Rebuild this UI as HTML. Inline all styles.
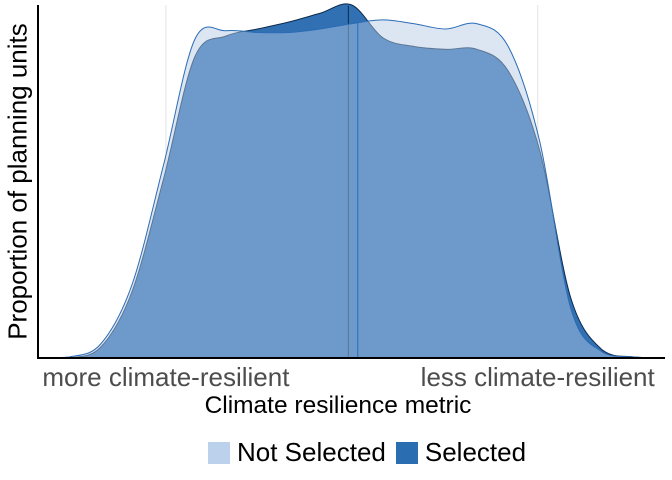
<!DOCTYPE html>
<html><head><meta charset="utf-8">
<style>
body{margin:0;background:#fff;}
svg{display:block;font-family:"Liberation Sans",sans-serif;}
</style></head>
<body>
<svg id="chart" width="672" height="480"></svg>
<script>
const xGrid = [0,5,10,15,20,25,30,35,40,45,50,55,60,65,70,75,80,85,90,95,100];
const notSelected = [0,0.003,0.04,0.21,0.55,0.91,0.935,0.93,0.93,0.94,0.955,0.966,0.955,0.94,0.955,0.89,0.62,0.14,0.017,0.003,0];
const selected = [0,0,0.031,0.19,0.51,0.86,0.92,0.94,0.96,0.985,1.009,0.915,0.89,0.882,0.882,0.82,0.594,0.17,0.023,0.003,0];
const meanSelected = 49.5;
const meanNotSelected = 51.0;
const tickValues = [20.4, 79.7];
const tickLabels = ["more climate-resilient","less climate-resilient"];

const NS="http://www.w3.org/2000/svg";
const svg=document.getElementById('chart');
const x0=38,x1=665,yb=358;
const sx=v=>x0+v/100*(x1-x0);
const sy=v=>yb-v*350;
function el(t,a){const e=document.createElementNS(NS,t);for(const k in a)e.setAttribute(k,a[k]);svg.appendChild(e);return e;}
function curvePath(ys){
  const p=xGrid.map((x,i)=>[sx(x),sy(ys[i])]);
  let d=`M${p[0][0]},${p[0][1]}`;
  for(let i=0;i<p.length-1;i++){
    const a=p[Math.max(0,i-1)],b=p[i],c=p[i+1],e=p[Math.min(p.length-1,i+2)];
    const c1=[b[0]+(c[0]-a[0])/6,b[1]+(c[1]-a[1])/6],c2=[c[0]-(e[0]-b[0])/6,c[1]-(e[1]-b[1])/6];
    d+=` C${c1[0]},${Math.min(yb,c1[1])} ${c2[0]},${Math.min(yb,c2[1])} ${c[0]},${c[1]}`;
  }
  return d;
}
function interp(ys,x){
  for(let i=0;i<xGrid.length-1;i++){if(x>=xGrid[i]&&x<=xGrid[i+1]){const t=(x-xGrid[i])/(xGrid[i+1]-xGrid[i]);return ys[i]+t*(ys[i+1]-ys[i]);}}
  return 0;
}
tickValues.forEach(v=>{
  const g=el('line',{x1:sx(v),x2:sx(v),y1:5,y2:yb,stroke:'#e3e3e3','stroke-width':1});
  
  
});
const ps=curvePath(selected);
const s=el('path',{d:ps+` L${sx(100)},${yb} L${sx(0)},${yb}Z`,fill:'rgb(30,100,172)','fill-opacity':0.92,stroke:'#0d2a4a','stroke-width':1});


const ms=el('line',{x1:sx(meanSelected),x2:sx(meanSelected),y1:sy(interp(selected,meanSelected)),y2:yb,stroke:'#0d2a4a','stroke-width':1});


const pn=curvePath(notSelected);
const n=el('path',{d:pn+` L${sx(100)},${yb} L${sx(0)},${yb}Z`,fill:'rgb(181,202,230)','fill-opacity':0.47,stroke:'#2b6cb5','stroke-width':1});


const mn=el('line',{x1:sx(meanNotSelected),x2:sx(meanNotSelected),y1:sy(interp(notSelected,meanNotSelected)),y2:yb,stroke:'#2b6cb5','stroke-width':1});


const ax=el('line',{x1:x0,x2:x1,y1:yb,y2:yb,stroke:'#000','stroke-width':2});


const ay=el('line',{x1:x0,x2:x0,y1:5,y2:yb+1,stroke:'#000','stroke-width':2});


tickValues.forEach((v,i)=>{
  const t=el('text',{x:sx(v),y:386,'text-anchor':'middle','font-size':26,fill:'#4d4d4d'});
  t.textContent=tickLabels[i];
  
  
});
</script>
<div style="position:absolute;left:0;top:0;width:672px;height:480px;pointer-events:none">
<div style="position:absolute;left:0;width:676px;top:392px;text-align:center;font:24.5px 'Liberation Sans',sans-serif;color:#000">Climate resilience metric</div>
<div style="position:absolute;left:-162px;top:166px;width:360px;text-align:center;transform:rotate(-90deg);font:26px 'Liberation Sans',sans-serif;color:#000">Proportion of planning units</div>
<div style="position:absolute;top:437px;left:208px;font:26px 'Liberation Sans',sans-serif;display:flex;align-items:center">
<span style="width:22px;height:22px;background:#bcd2ec;display:inline-block;margin-right:7px"></span>
<span style="margin-right:10px">Not Selected</span>
<span style="width:22px;height:22px;background:#2a6db0;display:inline-block;margin-right:7px"></span>
<span>Selected</span>
</div>
</div>
</body></html>
